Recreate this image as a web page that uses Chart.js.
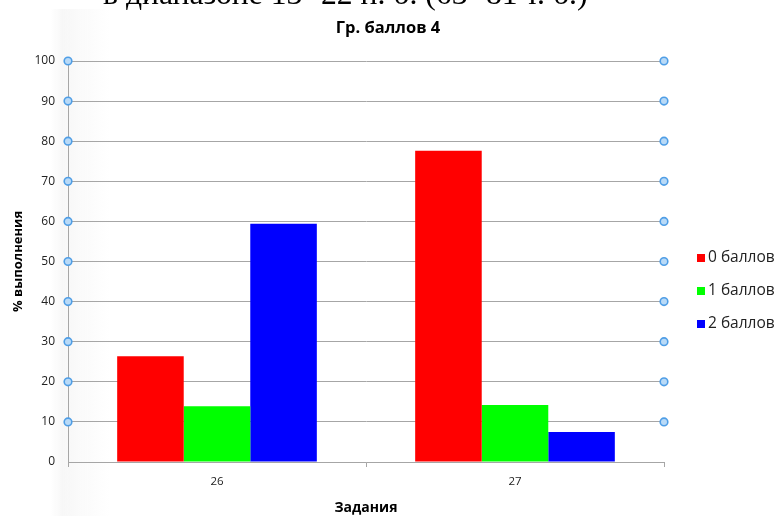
<!DOCTYPE html>
<html>
<head>
<meta charset="utf-8">
<script src="https://cdn.jsdelivr.net/npm/chart.js@4/dist/chart.umd.min.js"></script>
<style>
  html, body { margin: 0; padding: 0; background: #ffffff; }
  #wrap { width: 776px; height: 516px; position: relative; }
</style>
</head>
<body>
<div id="wrap"><canvas id="c" width="776" height="516"></canvas></div>
<script>
// Task numbers along the x axis
const categories = ['26', '27'];
// Share of pupils (%) by points earned for each task
const seriesNames = ['0 баллов', '1 баллов', '2 баллов'];
const score0 = [26.4, 77.6];
const score1 = [13.9, 14.2];
const score2 = [59.4, 7.5];
const seriesColors = ['#ff0000', '#00ff00', '#0000ff'];
// Value axis ticks
const yTicks = [0, 10, 20, 30, 40, 50, 60, 70, 80, 90, 100];

const chartTitle = 'Гр. баллов 4';
const xTitle = 'Задания';
const yTitle = '% выполнения';
const headerLine = 'в диапазоне 13- 22 п. б. (63- 81 т. б.)';

const SANS = '"Open Sans", "Noto Sans", sans-serif';

// Page text above the chart (only its lower edge is in view), a soft shaded band and the title
const backdrop = {
  id: 'backdrop',
  beforeDraw(chart) {
    const ctx = chart.ctx;
    ctx.save();
    const g = ctx.createLinearGradient(50, 0, 115, 0);
    g.addColorStop(0, 'rgba(238,238,238,0)');
    g.addColorStop(0.2, 'rgba(238,238,238,0.45)');
    g.addColorStop(0.6, 'rgba(244,244,244,0.3)');
    g.addColorStop(1, 'rgba(250,250,250,0)');
    ctx.fillStyle = g;
    ctx.fillRect(50, 9, 65, 507);
    ctx.fillStyle = '#000';
    ctx.font = '31.7px "Liberation Serif", "DejaVu Serif", serif';
    ctx.textBaseline = 'alphabetic';
    ctx.textAlign = 'left';
    ctx.fillText(headerLine, 103, 4);
    ctx.font = 'bold 16.5px ' + SANS;
    ctx.textAlign = 'center';
    ctx.textBaseline = 'middle';
    ctx.fillText(chartTitle, 388, 28);
    ctx.restore();
  }
};

// Round handles at both ends of each gridline, plus the legend at the right
const extras = {
  id: 'extras',
  afterDraw(chart) {
    const ctx = chart.ctx;
    const y = chart.scales.y;
    const area = chart.chartArea;
    ctx.save();
    yTicks.forEach(v => {
      if (v === 0) return;
      const py = y.getPixelForValue(v);
      [area.left, area.right].forEach(px => {
        ctx.beginPath();
        ctx.arc(px, py, 3.8, 0, Math.PI * 2);
        ctx.fillStyle = '#b9daf7';
        ctx.fill();
        ctx.lineWidth = 1.6;
        ctx.strokeStyle = '#4f9ee6';
        ctx.stroke();
      });
    });
    // legend
    const lx = 697;
    const rows = [258, 291, 324];
    ctx.font = '15.5px ' + SANS;
    ctx.textBaseline = 'middle';
    ctx.textAlign = 'left';
    chart.data.datasets.forEach((ds, i) => {
      ctx.fillStyle = ds.backgroundColor;
      ctx.fillRect(lx, rows[i] - 4, 8, 8);
      ctx.fillStyle = '#222';
      ctx.fillText(ds.label, lx + 11, rows[i]);
    });
    ctx.restore();
  }
};

new Chart(document.getElementById('c'), {
  type: 'bar',
  data: {
    labels: categories,
    datasets: [
      { label: seriesNames[0], data: score0, backgroundColor: seriesColors[0] },
      { label: seriesNames[1], data: score1, backgroundColor: seriesColors[1] },
      { label: seriesNames[2], data: score2, backgroundColor: seriesColors[2] }
    ]
  },
  options: {
    responsive: false,
    devicePixelRatio: 1,
    animation: false,
    layout: { padding: { left: 0, right: 112, top: 61, bottom: 0 } },
    datasets: { bar: { categoryPercentage: 0.67, barPercentage: 1.0 } },
    plugins: {
      legend: { display: false },
      tooltip: { enabled: false },
      title: { display: false }
    },
    scales: {
      x: {
        offset: true,
        grid: {
          offset: true,
          drawOnChartArea: false,
          drawTicks: true,
          tickLength: 5,
          color: '#a6a6a6'
        },
        border: { color: '#a6a6a6', width: 1 },
        ticks: { color: '#222', font: { family: SANS, size: 11.5 }, padding: 8 },
        title: {
          display: true,
          text: xTitle,
          color: '#000',
          font: { family: SANS, size: 14, weight: 'bold' },
          padding: { top: 6, bottom: 0 }
        },
        afterFit(s) { s.height = 54; }
      },
      y: {
        min: 0,
        max: 100,
        afterBuildTicks(s) { s.ticks = yTicks.map(v => ({ value: v })); },
        grid: { color: '#a6a6a6', drawTicks: false, lineWidth: 1 },
        border: { color: '#a6a6a6', width: 1 },
        ticks: { color: '#222', font: { family: SANS, size: 12 }, padding: 13 },
        title: {
          display: true,
          text: yTitle,
          color: '#000',
          font: { family: SANS, size: 13, weight: 'bold' },
          padding: { top: 10, bottom: 4 }
        },
        afterFit(s) { s.width = 68; }
      }
    }
  },
  plugins: [backdrop, extras]
});
</script>
</body>
</html>
